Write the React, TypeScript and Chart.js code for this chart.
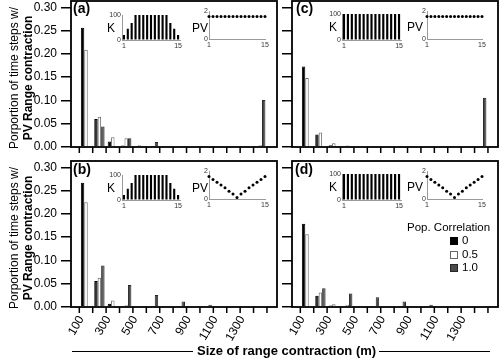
import React, { useEffect, useRef } from 'react';
import { Chart, registerables } from 'chart.js';

Chart.register(...registerables);

const FONT = "'Liberation Sans', Arial, Helvetica, sans-serif";
Chart.defaults.font.family = FONT;
Chart.defaults.color = '#000';

// ---------- data ----------
const categories = [100, 200, 300, 400, 500, 600, 700, 800, 900, 1000, 1100, 1200, 1300, 1400];
const binWidth = 100;
const xTickValues = [100, 200, 300, 400, 500, 600, 700, 800, 900, 1000, 1100, 1200, 1300, 1400, 1500];
const xTickLabels = ['100', '', '300', '', '500', '', '700', '', '900', '', '1100', '', '1300', '', ''];
const yTickValues = [0, 0.05, 0.1, 0.15, 0.2, 0.25, 0.3];
const seriesNames = ['0', '0.5', '1.0'];

const aCorr0 = [0.256, 0.060, 0.012, 0.003, 0.001, 0.002, 0.001, 0.001, 0.001, 0.001, 0.001, 0.001, 0.001, 0.000];
const aCorr05 = [0.209, 0.065, 0.021, 0.019, 0.004, 0.002, 0.001, 0.001, 0.001, 0.001, 0.001, 0.001, 0.001, 0.004];
const aCorr1 = [0.000, 0.044, 0.000, 0.019, 0.000, 0.011, 0.001, 0.000, 0.000, 0.000, 0.000, 0.000, 0.000, 0.101];

const bCorr0 = [0.267, 0.056, 0.007, 0.002, 0.001, 0.001, 0.001, 0.002, 0.000, 0.001, 0.000, 0.001, 0.000, 0.000];
const bCorr05 = [0.225, 0.063, 0.014, 0.004, 0.001, 0.001, 0.002, 0.002, 0.000, 0.001, 0.000, 0.002, 0.000, 0.000];
const bCorr1 = [0.000, 0.089, 0.000, 0.047, 0.001, 0.026, 0.000, 0.012, 0.000, 0.005, 0.000, 0.001, 0.000, 0.000];

const cCorr0 = [0.173, 0.027, 0.004, 0.001, 0.001, 0.001, 0.001, 0.001, 0.001, 0.001, 0.001, 0.001, 0.001, 0.000];
const cCorr05 = [0.148, 0.031, 0.008, 0.003, 0.001, 0.001, 0.001, 0.001, 0.001, 0.001, 0.001, 0.001, 0.001, 0.001];
const cCorr1 = [0.000, 0.000, 0.000, 0.000, 0.000, 0.000, 0.000, 0.000, 0.000, 0.000, 0.000, 0.000, 0.000, 0.106];

const dCorr0 = [0.179, 0.024, 0.003, 0.001, 0.001, 0.001, 0.001, 0.001, 0.000, 0.001, 0.000, 0.001, 0.000, 0.000];
const dCorr05 = [0.156, 0.031, 0.006, 0.005, 0.002, 0.002, 0.002, 0.002, 0.000, 0.002, 0.000, 0.002, 0.000, 0.001];
const dCorr1 = [0.000, 0.040, 0.000, 0.029, 0.001, 0.021, 0.000, 0.012, 0.000, 0.005, 0.000, 0.001, 0.000, 0.002];

// inset data
const insetIndex = [1, 2, 3, 4, 5, 6, 7, 8, 9, 10, 11, 12, 13, 14, 15];
const insetXTicks = [1, 15];
const kTapered = [20, 45, 68, 100, 100, 100, 100, 100, 100, 100, 100, 100, 68, 45, 20];
const kUniform = [100, 100, 100, 100, 100, 100, 100, 100, 100, 100, 100, 100, 100, 100, 100];
const kTicks = [0, 100];
const pvFlat = [1.6, 1.6, 1.6, 1.6, 1.6, 1.6, 1.6, 1.6, 1.6, 1.6, 1.6, 1.6, 1.6, 1.6, 1.6];
const pvV = [1.6, 1.4, 1.2, 1.0, 0.8, 0.55, 0.35, 0.1, 0.35, 0.55, 0.8, 1.0, 1.2, 1.4, 1.6];
const pvTicks = [0, 2];

// ---------- styles ----------
const barFills = ['#000000', '#ffffff', '#4a4a4a'];
const barBorders = ['#000000', '#666666', '#262626'];
const INSET_AXIS = '#9a9a9a';

function panelPlugin(showX: boolean): any {
  return {
    id: 'panelDecor',
    afterDraw(chart: any) {
      const { ctx, chartArea, scales } = chart;
      const xs = scales.x;
      ctx.save();
      // frame
      ctx.strokeStyle = '#000';
      ctx.lineWidth = 1.8;
      ctx.strokeRect(chartArea.left, chartArea.top, chartArea.right - chartArea.left, chartArea.bottom - chartArea.top);
      // x tick marks
      ctx.lineWidth = 1.5;
      ctx.beginPath();
      xTickValues.forEach((v) => {
        const px = xs.getPixelForValue(v);
        ctx.moveTo(px, chartArea.bottom);
        ctx.lineTo(px, chartArea.bottom + 6);
      });
      ctx.stroke();
      // x tick labels (rotated)
      if (showX) {
        ctx.font = `12px ${FONT}`;
        ctx.fillStyle = '#000';
        ctx.textAlign = 'right';
        ctx.textBaseline = 'middle';
        xTickValues.forEach((v, i) => {
          const label = xTickLabels[i];
          if (!label) return;
          const px = xs.getPixelForValue(v);
          ctx.save();
          ctx.translate(px + 2, chartArea.bottom + 10);
          ctx.rotate(-Math.PI / 3);
          ctx.fillText(label, 0, 0);
          ctx.restore();
        });
      }
      ctx.restore();
    },
  };
}

function mainConfig(series: number[][], showX: boolean, showY: boolean, xH: number, padRight: number): any {
  return {
    type: 'bar',
    data: {
      datasets: series.map((vals, i) => ({
        label: seriesNames[i],
        data: categories.map((c, j) => ({ x: c + binWidth / 2, y: vals[j] })),
        backgroundColor: barFills[i],
        borderColor: barBorders[i],
        borderWidth: 1,
        categoryPercentage: 0.77,
        barPercentage: 1,
      })),
    },
    options: {
      animation: false,
      responsive: false,
      events: [],
      layout: { padding: { left: 0, top: 1, right: padRight, bottom: 0 } },
      plugins: { legend: { display: false }, tooltip: { enabled: false } },
      scales: {
        x: {
          type: 'linear',
          min: 38,
          max: 1575,
          offset: false,
          afterBuildTicks: (s: any) => {
            s.ticks = xTickValues.map((v) => ({ value: v }));
          },
          afterFit: (s: any) => {
            s.height = xH;
            s.paddingLeft = 0;
            s.paddingRight = 0;
          },
          grid: { display: false, offset: false },
          border: { display: false },
          ticks: { display: false },
        },
        y: {
          min: 0,
          max: 0.3135,
          afterBuildTicks: (s: any) => {
            s.ticks = yTickValues.map((v) => ({ value: v }));
          },
          afterFit: (s: any) => {
            s.width = 71;
            s.paddingTop = 0;
            s.paddingBottom = 0;
          },
          grid: { drawOnChartArea: false, drawTicks: true, tickLength: 10, color: '#000', lineWidth: 1.5 },
          border: { display: false },
          ticks: {
            display: showY,
            padding: 4,
            font: { size: 12 },
            color: '#000',
            callback: (v: number) => v.toFixed(2),
          },
        },
      },
    },
    plugins: [panelPlugin(showX)],
  };
}

const INSET_PAD = { left: 18, top: 5, right: 7, bottom: 10 };

function insetScales(yMin: number, yMax: number, yTicks: number[], xLinear: boolean): any {
  const x: any = {
    grid: { drawOnChartArea: false, drawTicks: false },
    border: { display: true, color: INSET_AXIS, width: 1 },
    ticks: {
      autoSkip: false,
      maxRotation: 0,
      minRotation: 0,
      padding: 2,
      font: { size: 7 },
      color: '#333',
    },
    afterFit: (s: any) => {
      s.height = INSET_PAD.bottom;
      s.paddingLeft = 0;
      s.paddingRight = 0;
    },
  };
  if (xLinear) {
    x.type = 'linear';
    x.min = insetIndex[0];
    x.max = insetIndex[insetIndex.length - 1];
    x.afterBuildTicks = (s: any) => {
      s.ticks = insetXTicks.map((v) => ({ value: v }));
    };
    x.ticks.callback = (v: number) => String(v);
  } else {
    x.ticks.callback = (_v: number, i: number) => (insetXTicks.includes(insetIndex[i]) ? String(insetIndex[i]) : '');
  }
  return {
    x,
    y: {
      min: yMin,
      max: yMax,
      afterBuildTicks: (s: any) => {
        s.ticks = yTicks.map((v) => ({ value: v }));
      },
      afterFit: (s: any) => {
        s.width = INSET_PAD.left;
        s.paddingTop = 0;
        s.paddingBottom = 0;
      },
      grid: { drawOnChartArea: false, drawTicks: false },
      border: { display: true, color: INSET_AXIS, width: 1 },
      ticks: { padding: 1, font: { size: 7 }, color: '#333', callback: (v: number) => String(v) },
    },
  };
}

function kConfig(vals: number[]): any {
  return {
    type: 'bar',
    data: {
      labels: insetIndex.map(String),
      datasets: [{ data: vals, backgroundColor: '#000', borderWidth: 0, barPercentage: 0.55, categoryPercentage: 1 }],
    },
    options: {
      animation: false,
      responsive: false,
      events: [],
      layout: { padding: { left: 0, top: INSET_PAD.top, right: INSET_PAD.right, bottom: 0 } },
      plugins: { legend: { display: false }, tooltip: { enabled: false } },
      scales: insetScales(kTicks[0], kTicks[1], kTicks, false),
    },
  };
}

function pvConfig(vals: number[]): any {
  return {
    type: 'scatter',
    data: {
      datasets: [
        {
          data: insetIndex.map((x, i) => ({ x, y: vals[i] })),
          pointRadius: 1.5,
          pointBackgroundColor: '#000',
          pointBorderWidth: 0,
          showLine: false,
          clip: false,
        },
      ],
    },
    options: {
      animation: false,
      responsive: false,
      events: [],
      layout: { padding: { left: 0, top: INSET_PAD.top, right: INSET_PAD.right, bottom: 0 } },
      plugins: { legend: { display: false }, tooltip: { enabled: false } },
      scales: insetScales(pvTicks[0], pvTicks[1], pvTicks, true),
    },
  };
}

function ChartCanvas({ left, top, width, height, make }: { left: number; top: number; width: number; height: number; make: () => any }) {
  const ref = useRef<HTMLCanvasElement | null>(null);
  useEffect(() => {
    const chart = new Chart(ref.current as HTMLCanvasElement, make());
    return () => chart.destroy();
  }, []);
  return (
    <canvas
      ref={ref}
      width={width}
      height={height}
      style={{ position: 'absolute', left, top, width, height }}
    />
  );
}

function Inset({ x, y, w, h, make }: { x: number; y: number; w: number; h: number; make: () => any }) {
  return (
    <ChartCanvas
      left={x - INSET_PAD.left}
      top={y - INSET_PAD.top}
      width={INSET_PAD.left + w + INSET_PAD.right}
      height={INSET_PAD.top + h + INSET_PAD.bottom}
      make={make}
    />
  );
}

const txt = (s: React.CSSProperties): React.CSSProperties => ({
  position: 'absolute',
  whiteSpace: 'nowrap',
  lineHeight: 1,
  color: '#000',
  fontFamily: FONT,
  ...s,
});

function YTitle({ cy }: { cy: number }) {
  return (
    <>
      <div style={txt({ left: 14, top: cy, fontSize: 12, transform: 'translate(-50%, -50%) rotate(-90deg)' })}>
        Porportion of time steps w/
      </div>
      <div style={txt({ left: 28, top: cy, fontSize: 12, fontWeight: 'bold', transform: 'translate(-50%, -50%) rotate(-90deg)' })}>
        PV Range contraction
      </div>
    </>
  );
}

export default function App() {
  const panels = [
    { id: 'a', left: 0, top: 0, w: 280, h: 160, pr: 3, xH: 13, showX: false, showY: true, s: [aCorr0, aCorr05, aCorr1] },
    { id: 'c', left: 221, top: 0, w: 279, h: 160, pr: 2, xH: 13, showX: false, showY: false, s: [cCorr0, cCorr05, cCorr1] },
    { id: 'b', left: 0, top: 160, w: 280, h: 199, pr: 3, xH: 52, showX: true, showY: true, s: [bCorr0, bCorr05, bCorr1] },
    { id: 'd', left: 221, top: 160, w: 279, h: 199, pr: 2, xH: 52, showX: true, showY: false, s: [dCorr0, dCorr05, dCorr1] },
  ];
  const insets = [
    { key: 'ka', x: 122, y: 15, w: 58, h: 25, make: () => kConfig(kTapered) },
    { key: 'pa', x: 209, y: 11, w: 56, h: 28, make: () => pvConfig(pvFlat) },
    { key: 'kc', x: 342, y: 14, w: 59, h: 26, make: () => kConfig(kUniform) },
    { key: 'pc', x: 427, y: 11, w: 55, h: 28, make: () => pvConfig(pvFlat) },
    { key: 'kb', x: 122, y: 175, w: 58, h: 25, make: () => kConfig(kTapered) },
    { key: 'pb', x: 209, y: 171, w: 56, h: 28, make: () => pvConfig(pvV) },
    { key: 'kd', x: 342, y: 174, w: 59, h: 26, make: () => kConfig(kUniform) },
    { key: 'pd', x: 427, y: 171, w: 55, h: 28, make: () => pvConfig(pvV) },
  ];
  const panelLabels = [
    { t: '(a)', x: 73, y: 1 },
    { t: '(c)', x: 296, y: 1 },
    { t: '(b)', x: 73, y: 162 },
    { t: '(d)', x: 295, y: 162 },
  ];
  const insetLabels = [
    { t: 'K', x: 107, y: 22 },
    { t: 'PV', x: 192, y: 22 },
    { t: 'K', x: 329, y: 21 },
    { t: 'PV', x: 407, y: 21 },
    { t: 'K', x: 107, y: 182 },
    { t: 'PV', x: 192, y: 182 },
    { t: 'K', x: 329, y: 181 },
    { t: 'PV', x: 407, y: 181 },
  ];
  const legendRows = [241, 255, 268];

  return (
    <div style={{ position: 'fixed', left: 0, top: 0, width: 500, height: 359, background: '#fff', overflow: 'hidden' }}>
      {panels.map((p) => (
        <ChartCanvas
          key={p.id}
          left={p.left}
          top={p.top}
          width={p.w}
          height={p.h}
          make={() => mainConfig(p.s, p.showX, p.showY, p.xH, p.pr)}
        />
      ))}
      {insets.map((i) => (
        <Inset key={i.key} x={i.x} y={i.y} w={i.w} h={i.h} make={i.make} />
      ))}
      {panelLabels.map((l) => (
        <div key={l.t} style={txt({ left: l.x, top: l.y, fontSize: 14, fontWeight: 'bold' })}>
          {l.t}
        </div>
      ))}
      {insetLabels.map((l, i) => (
        <div key={i} style={txt({ left: l.x, top: l.y, fontSize: 12 })}>
          {l.t}
        </div>
      ))}
      <YTitle cy={78} />
      <YTitle cy={238} />
      {/* x-axis title with rules */}
      <div style={{ position: 'absolute', left: 72, top: 351, width: 121, height: 1, background: '#000' }} />
      <div style={txt({ left: 197, top: 344, fontSize: 13, fontWeight: 'bold' })}>Size of range contraction (m)</div>
      <div style={{ position: 'absolute', left: 379, top: 351, width: 111, height: 1, background: '#000' }} />
      {/* legend */}
      <div style={txt({ left: 407, top: 222, fontSize: 11.5 })}>Pop. Correlation</div>
      {seriesNames.map((n, i) => (
        <React.Fragment key={n}>
          <div
            style={{
              position: 'absolute',
              left: 450,
              top: legendRows[i] - 4,
              width: 8,
              height: 8,
              boxSizing: 'border-box',
              background: barFills[i],
              border: `1px solid ${barBorders[i]}`,
            }}
          />
          <div style={txt({ left: 462, top: legendRows[i] - 6, fontSize: 11.5 })}>{n}</div>
        </React.Fragment>
      ))}
    </div>
  );
}
